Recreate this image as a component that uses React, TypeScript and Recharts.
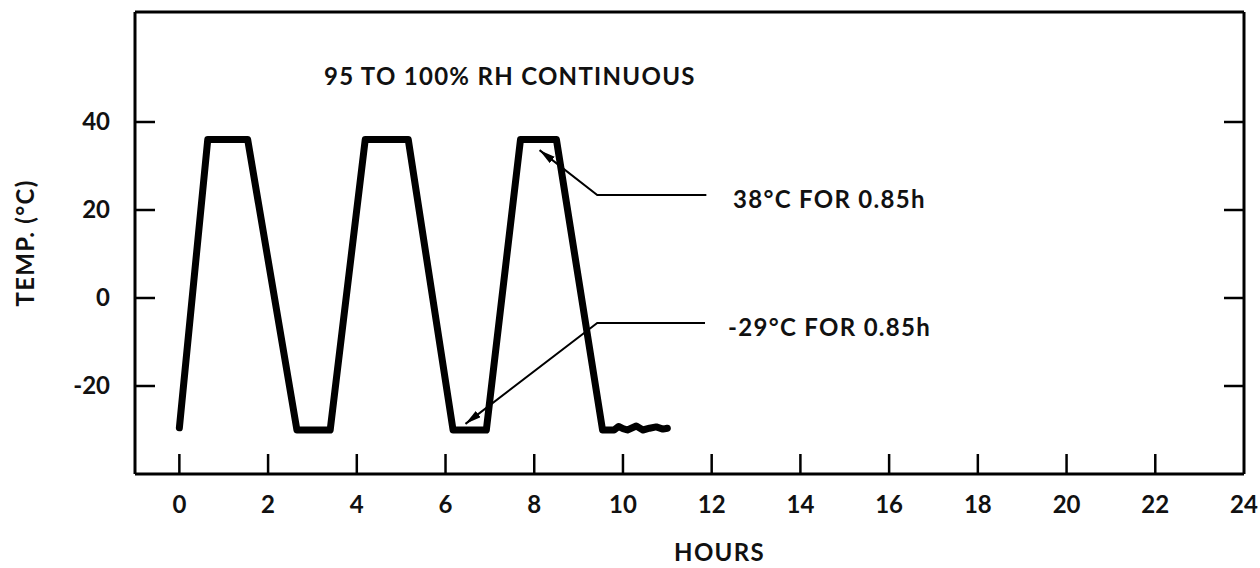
import React from 'react'
import { LineChart, Line, XAxis, YAxis, ReferenceDot } from 'recharts'

const FONT = 'Lato, "DejaVu Sans", sans-serif'

// chamber temperature profile (hours, deg C)
const profileHours = [0, 0.64, 1.54, 2.65, 3.4, 4.19, 5.16, 6.17, 6.92, 7.69, 8.5, 9.54, 9.8, 9.9, 10.0, 10.1, 10.3, 10.45, 10.6, 10.75, 10.9, 11.0]
const profileTemps = [-29.5, 36, 36, -30, -30, 36, 36, -30, -30, 36, 36, -30, -30, -29.2, -29.7, -30, -29.1, -30, -29.6, -29.3, -29.8, -29.6]

// leader lines from the callouts back to the dwell segments
const highLeaderHours = [8.12, 9.42, 11.88]
const highLeaderTemps = [33.6, 23.4, 23.4]
const lowLeaderHours = [6.45, 9.42, 11.85]
const lowLeaderTemps = [-28.6, -5.7, -5.7]

// callout text and where it sits
const noteTexts = ['95 TO 100% RH CONTINUOUS', '38°C FOR 0.85h', '-29°C FOR 0.85h']
const noteHours = [7.45, 12.48, 12.37]
const noteTemps = [50.2, 22.3, -6.8]
const noteAnchors: ('middle' | 'start')[] = ['middle', 'start', 'start']

const hourTicks = [0, 2, 4, 6, 8, 10, 12, 14, 16, 18, 20, 22, 24]
const markTicks = [0, 2, 4, 6, 8, 10, 12, 14, 16, 18, 20, 22]
const tempTicks = [-20, 0, 20, 40]

const toPoints = (xs: number[], ys: number[]) => xs.map((h, i) => ({ h, t: ys[i] }))

const profile = toPoints(profileHours, profileTemps)
const highLeader = toPoints(highLeaderHours, highLeaderTemps)
const lowLeader = toPoints(lowLeaderHours, lowLeaderTemps)

const TICK_LEN = 20

const textStyle = { fontFamily: FONT, fontWeight: 700, fontSize: 24, fill: '#111' }
const wordStyle = { ...textStyle, letterSpacing: 1.3 }

const BottomTick = ({ x, y, payload }: any) => (
  <g>
    {payload.value < 24 && <line x1={x} y1={y} x2={x} y2={y - TICK_LEN} stroke="#000" strokeWidth={2.5} />}
    <text x={x} y={y + 39} textAnchor="middle" {...textStyle}>
      {payload.value}
    </text>
  </g>
)

const TopTick = ({ x, y }: any) => (
  <line x1={x} y1={y} x2={x} y2={y + TICK_LEN} stroke="#000" strokeWidth={2.5} />
)

const LeftTick = ({ x, y, payload }: any) => (
  <g>
    <line x1={x} y1={y} x2={x + TICK_LEN} y2={y} stroke="#000" strokeWidth={2.5} />
    <text x={x - 25} y={y} dy={8} textAnchor="end" {...textStyle}>
      {payload.value}
    </text>
  </g>
)

const RightTick = ({ x, y }: any) => (
  <line x1={x} y1={y} x2={x - TICK_LEN} y2={y} stroke="#000" strokeWidth={2.5} />
)

const TempLabel = ({ viewBox }: any) => {
  const cx = viewBox.x + 26
  const cy = viewBox.y + viewBox.height / 2
  return (
    <text x={cx} y={cy} dy={8} textAnchor="middle" transform={`rotate(-90, ${cx}, ${cy})`} {...wordStyle}>
      TEMP. (°C)
    </text>
  )
}

const HoursLabel = ({ viewBox }: any) => (
  <text x={viewBox.x + viewBox.width / 2 + 30} y={viewBox.y + viewBox.height - 7} textAnchor="middle" {...wordStyle}>
    HOURS
  </text>
)

const noteLabel = (text: string, anchor: 'middle' | 'start') => ({ viewBox }: any) => (
  <text x={viewBox.x} y={viewBox.y} dy={8} textAnchor={anchor} {...wordStyle}>
    {text}
  </text>
)

export default function App() {
  return (
    <div style={{ width: 1260, height: 568, background: '#fff' }}>
      <style>{'body{margin:0;background:#fff}'}</style>
      <svg width={0} height={0} style={{ position: 'absolute' }}>
        <defs>
          <marker
            id="leaderArrow"
            markerUnits="userSpaceOnUse"
            markerWidth={18}
            markerHeight={10}
            refX={16}
            refY={4}
            orient="auto-start-reverse"
          >
            <path d="M0,0 L16,4 L0,8 z" fill="#000" />
          </marker>
        </defs>
      </svg>
      <LineChart width={1260} height={568} margin={{ top: 0, right: 0, bottom: 0, left: 0 }}>
        <XAxis
          dataKey="h"
          type="number"
          domain={[-1, 24]}
          ticks={hourTicks}
          interval={0}
          allowDataOverflow
          height={94}
          tickSize={0}
          tickMargin={0}
          tickLine={false}
          tick={<BottomTick />}
          axisLine={{ stroke: '#000', strokeWidth: 3 }}
          label={<HoursLabel />}
        />
        <XAxis
          xAxisId="top"
          orientation="top"
          type="number"
          domain={[-1, 24]}
          ticks={markTicks}
          interval={0}
          allowDataOverflow
          height={12}
          tickSize={0}
          tickMargin={0}
          tickLine={false}
          tick={<TopTick />}
          axisLine={{ stroke: '#000', strokeWidth: 3 }}
        />
        <YAxis
          type="number"
          domain={[-40, 65]}
          ticks={tempTicks}
          interval={0}
          allowDataOverflow
          width={135}
          tickSize={0}
          tickMargin={0}
          tickLine={false}
          tick={<LeftTick />}
          axisLine={{ stroke: '#000', strokeWidth: 3 }}
          label={<TempLabel />}
        />
        <YAxis
          yAxisId="right"
          orientation="right"
          type="number"
          domain={[-40, 65]}
          ticks={tempTicks}
          interval={0}
          allowDataOverflow
          width={16}
          tickSize={0}
          tickMargin={0}
          tickLine={false}
          tick={<RightTick />}
          axisLine={{ stroke: '#000', strokeWidth: 3 }}
        />
        <Line
          data={profile}
          dataKey="t"
          type="linear"
          stroke="#000"
          strokeWidth={7}
          strokeLinejoin="round"
          strokeLinecap="round"
          dot={false}
          isAnimationActive={false}
        />
        <Line
          data={highLeader}
          dataKey="t"
          type="linear"
          stroke="#000"
          strokeWidth={2}
          dot={false}
          markerStart="url(#leaderArrow)"
          isAnimationActive={false}
        />
        <Line
          data={lowLeader}
          dataKey="t"
          type="linear"
          stroke="#000"
          strokeWidth={2}
          dot={false}
          markerStart="url(#leaderArrow)"
          isAnimationActive={false}
        />
        {noteTexts.map((text, i) => (
          <ReferenceDot
            key={text}
            x={noteHours[i]}
            y={noteTemps[i]}
            r={0}
            stroke="none"
            label={noteLabel(text, noteAnchors[i])}
          />
        ))}
      </LineChart>
    </div>
  )
}
